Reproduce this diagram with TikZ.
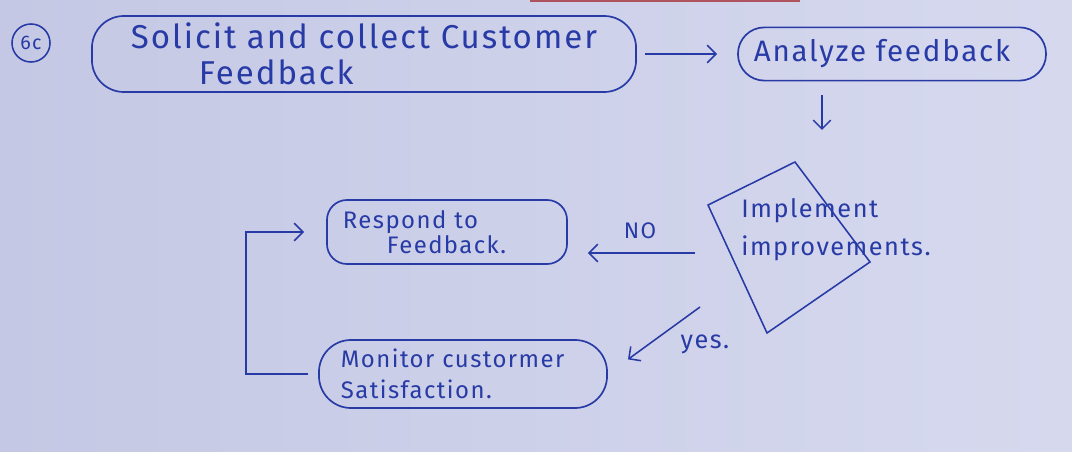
\documentclass[tikz,border=0pt]{standalone}
\usepackage{fontspec}
\setmainfont{Fira Sans}
\newfontfamily\handfont[LetterSpace=6]{Fira Sans}
\usetikzlibrary{arrows.meta}
\definecolor{paperL}{RGB}{196,200,228}
\definecolor{paperR}{RGB}{214,217,238}
\definecolor{ink}{RGB}{40,58,165}
\newcommand*{\mytextstyle}{\handfont\color{ink}}
\tikzset{
  flowbox/.style = {draw = ink, line width = 1.2pt, rounded corners = #1,
    align = left, font = \mytextstyle},
  flowbox/.default = 0.6cm,
  arr/.style = {draw = ink, line width = 1.1pt,
    -{Straight Barb[length = 2.2mm, width = 4.4mm]}},
  lbl/.style = {font = \mytextstyle, inner sep = 0pt}
}

\begin{document}
\begin{tikzpicture}[x = 0.025cm, y = -0.025cm]
  \shade[left color = paperL, right color = paperR] (0,0) rectangle (1072,452);
  \useasboundingbox (0,0) rectangle (1072,452);
  \draw[red!60!black, opacity = 0.6, line width = 1.5pt] (530,0.6) -- (800,0.6);
  % step number
  \node[draw = ink, circle, line width = 1.1pt, minimum size = 0.95cm, inner sep = 0pt,
    font = \mytextstyle\fontsize{14}{14}\selectfont] (num) at (31,43) {6c};
  % process boxes
  \node[flowbox = 0.8cm, minimum width = 13.6cm, minimum height = 1.9cm,
    font = \mytextstyle\fontsize{23.5}{26}\selectfont] (solicit) at (364,54)
    {Solicit and collect Customer\\\hspace*{1.7cm}Feedback};
  \node[flowbox = 0.66cm, minimum width = 7.7cm, minimum height = 1.33cm,
    font = \mytextstyle\fontsize{21}{26}\selectfont] (analyze) at (892,54)
    {Analyze feedback\hspace*{0.5cm}};
  \node[flowbox = 0.5cm, text width = 5.2cm, inner xsep = 0.4cm, minimum height = 1.6cm,
    font = \mytextstyle\fontsize{17}{18}\selectfont] (respond) at (447,232)
    {Respond to\\\hspace*{1.1cm}Feedback.};
  \node[flowbox = 0.8cm, text width = 6.1cm, inner xsep = 0.55cm, minimum height = 1.7cm,
    font = \mytextstyle\fontsize{17}{22}\selectfont] (monitor) at (463,374)
    {Monitor custormer\\Satisfaction.};
  % decision
  \coordinate (dleft) at (708,205);
  \coordinate (dtop) at (795,162);
  \coordinate (dright) at (870,262);
  \coordinate (dbot) at (767,333);
  \draw[ink, line width = 1.1pt] (dleft) -- (dtop) -- (dright) -- (dbot) -- cycle;
  \node[lbl, align = left, font = \mytextstyle\fontsize{18}{27}\selectfont]
    (implement) at (836,230) {Implement\\improvements.};
  % connectors
  \coordinate (nostart) at (695,253);
  \coordinate (yesstart) at (700,307);
  \draw[arr, shorten <= 0.2cm, shorten >= 0.5cm] (solicit.east) -- (analyze.west);
  \draw[arr, shorten <= 0.35cm, shorten >= 0.8cm]
    ([xshift = -1.75cm]analyze.south) -- ([xshift = -1.75cm]analyze.south |- dtop);
  \draw[arr, shorten >= 0.5cm] (nostart) -- (respond.east |- nostart);
  \draw[arr, shorten >= 0.62cm] (yesstart) -- (monitor.east);
  \draw[arr, shorten <= 0.25cm, shorten >= 0.55cm]
    (monitor.west) -- ++(-72,0) |- (respond.west);
  \node[lbl, font = \mytextstyle\fontsize{16}{16}\selectfont] (no) at (640,231) {NO};
  \node[lbl, font = \mytextstyle\fontsize{18}{18}\selectfont] (yes) at (705,344) {yes.};
\end{tikzpicture}
\end{document}
